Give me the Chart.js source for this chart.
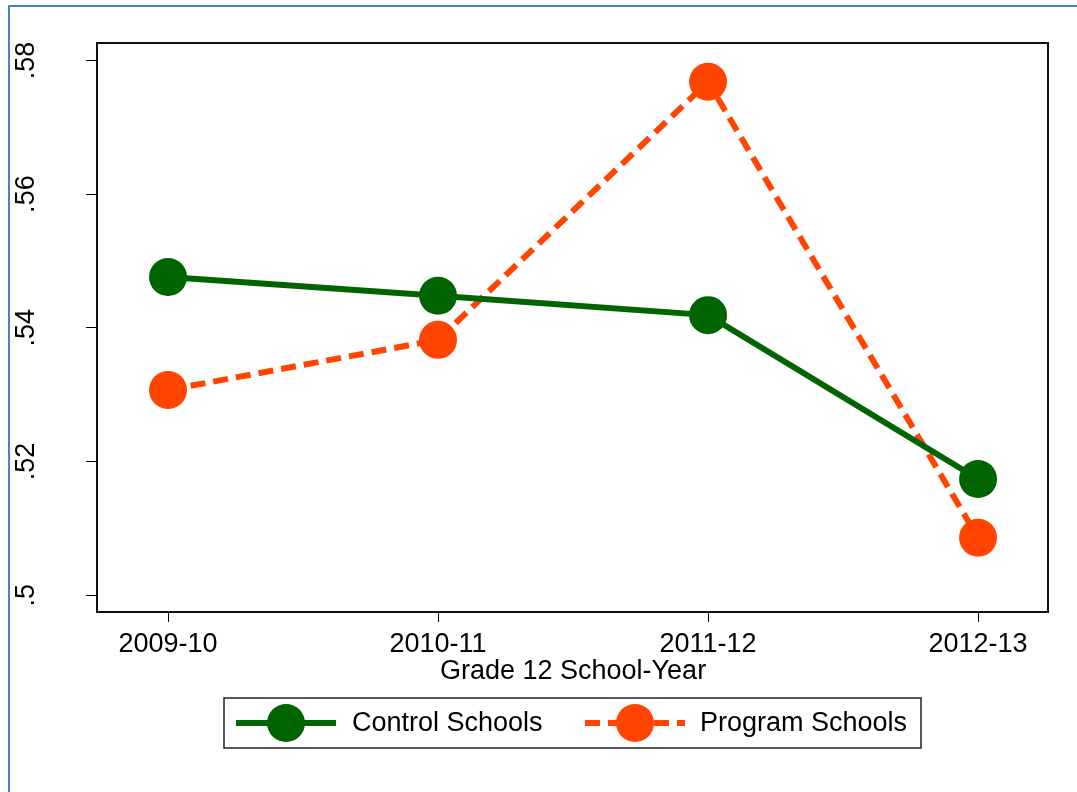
<!DOCTYPE html>
<html>
<head>
<meta charset="utf-8">
<script src="https://cdn.jsdelivr.net/npm/chart.js@4/dist/chart.umd.min.js"></script>
<style>
  body { margin: 0; background: #fff; }
  #wrap { width: 1077px; height: 792px; }
</style>
</head>
<body>
<div id="wrap"><canvas id="chartYears" width="1077" height="792"></canvas></div>
<script>
var years = ["2009-10", "2010-11", "2011-12", "2012-13"];
var controlSchools = [0.5476, 0.5448, 0.5419, 0.5174];
var programSchools = [0.5307, 0.5382, 0.5768, 0.5086];
var yTicks = [0.5, 0.52, 0.54, 0.56, 0.58];
var xTitle = "Grade 12 School-Year";

var green = 'rgb(0, 100, 0)';
var orange = 'rgb(255, 69, 0)';
var font = '"Liberation Sans", Arial, sans-serif';
var fontSize = 27;

function points(values) {
  return values.map(function (v, i) { return { x: i, y: v }; });
}

// frame, rotated y labels, axis title and the boxed legend
var stataBits = {
  id: 'stataBits',
  afterDraw: function (chart) {
    var c = chart.ctx, a = chart.chartArea, y = chart.scales.y, x = chart.scales.x;
    c.save();

    // outer blue page border
    c.strokeStyle = 'rgb(79, 129, 189)';
    c.lineWidth = 2;
    c.beginPath();
    c.moveTo(9, 792); c.lineTo(9, 6); c.lineTo(1077, 6);
    c.stroke();

    // plot box
    c.strokeStyle = '#111';
    c.lineWidth = 2;
    c.strokeRect(a.left, a.top, a.right - a.left, a.bottom - a.top);

    // y tick labels, rotated
    c.fillStyle = '#000';
    c.font = fontSize + 'px ' + font;
    c.textAlign = 'center';
    c.textBaseline = 'alphabetic';
    yTicks.forEach(function (t) {
      var py = y.getPixelForValue(t);
      c.save();
      c.translate(34, py);
      c.rotate(-Math.PI / 2);
      c.fillText(String(t).replace(/^0/, ''), 0, 0);
      c.restore();
    });

    // x axis title
    c.fillText(xTitle, (x.getPixelForValue(1) + x.getPixelForValue(2)) / 2, 679);

    // legend
    var lx = 224, ly = 698, lw = 697, lh = 50, cy = ly + lh / 2;
    c.lineWidth = 1.5;
    c.strokeStyle = '#222';
    c.strokeRect(lx, ly, lw, lh);

    var items = [
      { ds: chart.data.datasets[0], x0: 236, text: 352 },
      { ds: chart.data.datasets[1], x0: 585, text: 700 }
    ];
    items.forEach(function (it) {
      c.strokeStyle = it.ds.borderColor;
      c.lineWidth = it.ds.borderWidth;
      c.setLineDash(it.ds.borderDash || []);
      c.beginPath();
      c.moveTo(it.x0, cy); c.lineTo(it.x0 + 100, cy);
      c.stroke();
      c.setLineDash([]);
      c.fillStyle = it.ds.pointBackgroundColor;
      c.beginPath();
      c.arc(it.x0 + 50, cy, it.ds.pointRadius, 0, Math.PI * 2);
      c.fill();
      c.fillStyle = '#000';
      c.textAlign = 'left';
      c.textBaseline = 'middle';
      c.fillText(it.ds.label, it.text, cy + 1);
    });

    c.restore();
  }
};

var ctx = document.getElementById('chartYears').getContext('2d');
var chart = new Chart(ctx, {
  type: 'line',
  data: {
    datasets: [{
      label: "Control Schools",
      data: points(controlSchools),
      borderColor: green,
      backgroundColor: green,
      pointBackgroundColor: green,
      pointBorderWidth: 0,
      pointRadius: 19,
      borderWidth: 6,
      tension: 0
    }, {
      label: "Program Schools",
      data: points(programSchools),
      borderColor: orange,
      backgroundColor: orange,
      pointBackgroundColor: orange,
      pointBorderWidth: 0,
      pointRadius: 19,
      borderWidth: 6,
      borderDash: [15, 8],
      tension: 0
    }]
  },
  options: {
    responsive: false,
    animation: false,
    devicePixelRatio: 1,
    layout: { padding: { top: 43, right: 29, left: 0, bottom: 0 } },
    plugins: { legend: { display: false }, tooltip: { enabled: false } },
    scales: {
      x: {
        type: 'linear',
        min: -0.263,
        max: 3.259,
        afterBuildTicks: function (s) { s.ticks = years.map(function (_, i) { return { value: i }; }); },
        afterFit: function (s) { s.height = 180; },
        grid: { drawOnChartArea: false, tickLength: 10, tickColor: '#000', tickWidth: 1 },
        border: { display: false },
        ticks: {
          padding: 6,
          color: '#000',
          font: { family: font, size: fontSize },
          callback: function (v) { return years[v]; }
        }
      },
      y: {
        min: 0.4975,
        max: 0.5826,
        afterBuildTicks: function (s) { s.ticks = yTicks.map(function (v) { return { value: v }; }); },
        afterFit: function (s) { s.width = 97; },
        grid: { drawOnChartArea: false, tickLength: 11, tickColor: '#000', tickWidth: 1 },
        border: { display: false },
        ticks: { display: false }
      }
    }
  },
  plugins: [stataBits]
});
</script>
</body>
</html>
